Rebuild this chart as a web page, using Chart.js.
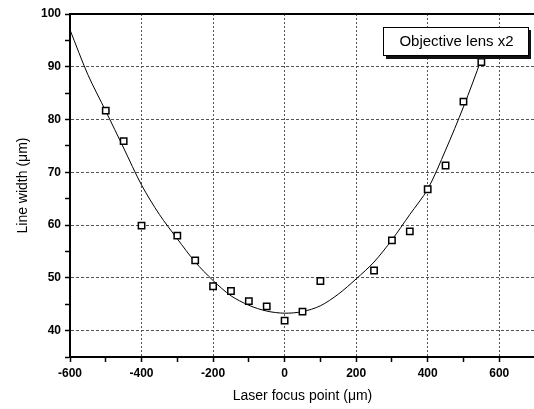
<!DOCTYPE html>
<html>
<head>
<meta charset="utf-8">
<script src="https://cdn.jsdelivr.net/npm/chart.js@4/dist/chart.umd.min.js"></script>
<style>
	html, body { margin: 0; padding: 0; background: #fff; overflow: hidden; }
	canvas { display: block; }
</style>
</head>
<body>
<canvas id="chart" width="541" height="409"></canvas>
<script>
// measured points
var focusX = [-500, -450, -400, -300, -250, -200, -150, -100, -50, 0, 50, 100, 250, 300, 350, 400, 450, 500, 550];
var widthY = [81.7, 75.9, 59.9, 58.0, 53.3, 48.4, 47.5, 45.6, 44.6, 41.9, 43.6, 49.4, 51.4, 57.1, 58.8, 66.8, 71.3, 83.4, 90.9];

// fitted curve
var fitX = [-600, -550, -500, -450, -400, -350, -300, -250, -200, -150, -100, -50, 0, 50, 100, 150, 200, 250, 300, 350, 400, 450, 500, 550, 575];
var fitY = [97.0, 88.5, 81.6, 74.6, 67.6, 62.0, 57.4, 53.0, 49.5, 46.6, 44.8, 43.7, 43.3, 43.6, 44.7, 46.9, 49.8, 53.0, 57.2, 62.0, 66.8, 74.2, 82.4, 91.5, 97.0];

var legendText = "Objective lens x2";
var xTitle = "Laser focus point (\u03bcm)";
var yTitle = "Line width (\u03bcm)";

function toPoints(xs, ys){
	var pts = [];
	for(var i = 0; i < xs.length; i++){
		pts.push({x: xs[i], y: ys[i]});
	}
	return pts;
}

var frame = {
	id: "frame",
	afterDatasetsDraw: function(chart){
		var ctx = chart.ctx;
		var a = chart.chartArea;
		ctx.save();
		ctx.strokeStyle = "#000";
		ctx.lineWidth = 2;
		ctx.beginPath();
		ctx.moveTo(a.left, a.top);
		ctx.lineTo(a.right, a.top);
		ctx.lineTo(a.right, a.bottom);
		ctx.stroke();

		// text box
		var bx = 383, by = 27, bw = 145, bh = 28;
		ctx.fillStyle = "#111";
		ctx.fillRect(bx + 3, by + 3, bw, bh + 1);
		ctx.fillStyle = "#fff";
		ctx.fillRect(bx, by, bw, bh);
		ctx.lineWidth = 1;
		ctx.strokeStyle = "#000";
		ctx.strokeRect(bx + 0.5, by + 0.5, bw, bh);
		ctx.fillStyle = "#000";
		ctx.font = "15px 'Liberation Sans', Arial, sans-serif";
		ctx.textAlign = "center";
		ctx.textBaseline = "middle";
		ctx.fillText(legendText, bx + bw / 2 + 1, by + bh / 2 + 1);
		ctx.restore();
	}
};

var tickFont = {family: "'Liberation Sans', Arial, sans-serif", size: 12, weight: "bold"};
var titleFont = {family: "'Liberation Sans', Arial, sans-serif", size: 14};

new Chart(document.getElementById("chart"), {
	type: "scatter",
	data: {
		datasets: [{
			label: "fit",
			data: toPoints(fitX, fitY),
			showLine: true,
			borderColor: "#000",
			borderWidth: 1,
			pointRadius: 0,
			tension: 0.3,
			order: 2
		}, {
			label: legendText,
			data: toPoints(focusX, widthY),
			pointStyle: "rect",
			pointRadius: 4.5,
			pointBorderWidth: 1.5,
			pointBorderColor: "#000",
			pointBackgroundColor: "#fff",
			order: 1
		}]
	},
	options: {
		responsive: false,
		animation: false,
		devicePixelRatio: 1,
		layout: {padding: {top: 14, right: 0, left: 0, bottom: 0}},
		plugins: {
			legend: {display: false},
			tooltip: {enabled: false}
		},
		scales: {
			x: {
				type: "linear",
				min: -600,
				max: 700,
				afterFit: function(scale){ scale.height = 52; },
				ticks: {
					stepSize: 100,
					autoSkip: false,
					maxRotation: 0,
					padding: 4,
					color: "#000",
					font: tickFont,
					callback: function(v){ return v % 200 === 0 ? v : ""; }
				},
				grid: {
					color: function(c){ return c.tick && c.tick.value % 200 === 0 ? "#555" : "rgba(0,0,0,0)"; },
					lineWidth: 1,
					tickColor: "#000",
					tickLength: 5,
					tickWidth: 1.5,
					tickBorderDash: []
				},
				border: {display: true, color: "#000", width: 2, dash: [2, 2]},
				title: {display: true, text: xTitle, color: "#000", font: titleFont, padding: {top: 0, bottom: 4}}
			},
			y: {
				min: 35,
				max: 100,
				afterFit: function(scale){ scale.width = 70; },
				ticks: {
					stepSize: 5,
					autoSkip: false,
					padding: 4,
					color: "#000",
					font: tickFont,
					callback: function(v){ return v % 10 === 0 ? v : ""; }
				},
				grid: {
					color: function(c){ return c.tick && c.tick.value % 10 === 0 ? "#555" : "rgba(0,0,0,0)"; },
					lineWidth: 1,
					tickColor: "#000",
					tickLength: 5,
					tickWidth: 1.5,
					tickBorderDash: []
				},
				border: {display: true, color: "#000", width: 2, dash: [3, 2]},
				title: {display: true, text: yTitle, color: "#000", font: titleFont, padding: {top: 15, bottom: 0}}
			}
		}
	},
	plugins: [frame]
});
</script>
</body>
</html>
